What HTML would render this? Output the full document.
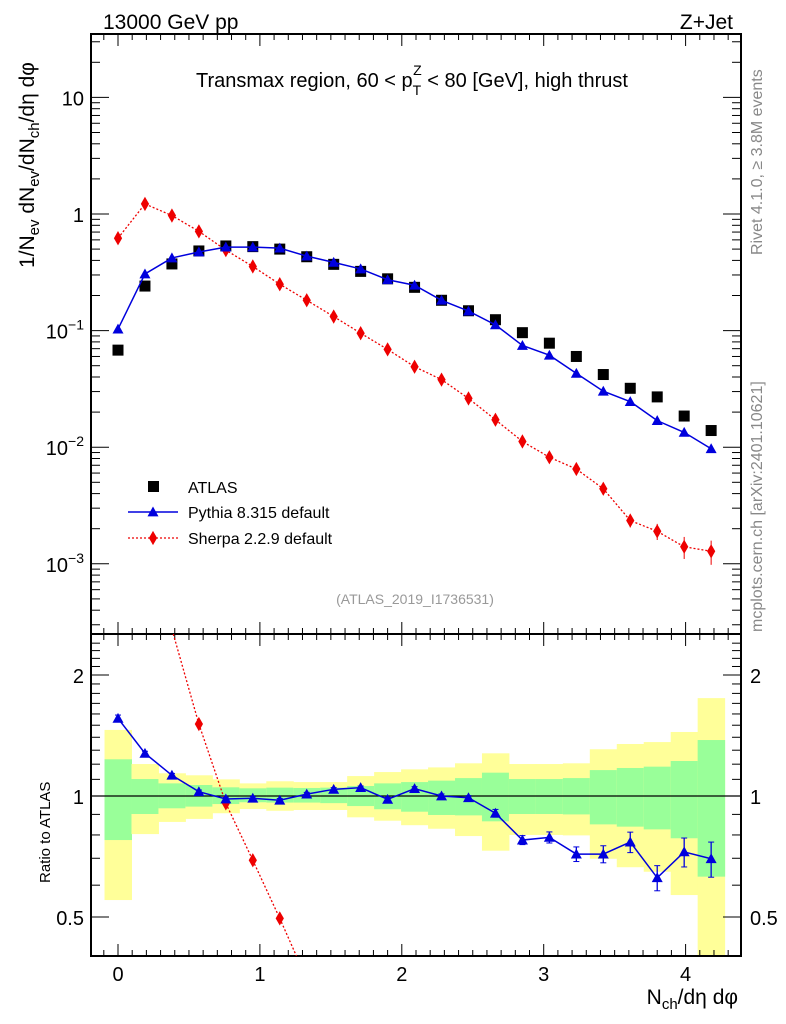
<!DOCTYPE html>
<html><head><meta charset="utf-8"><style>
html,body{margin:0;padding:0;background:#fff;overflow:hidden;width:786px;height:1024px}
svg{display:block;font-family:"Liberation Sans",sans-serif}
</style></head><body>
<svg id="chart" width="786" height="1024" viewBox="0 0 786 1024" xmlns="http://www.w3.org/2000/svg">
<text x="103" y="29" font-size="21">13000 GeV pp</text>
<text x="733" y="29" font-size="21" text-anchor="end">Z+Jet</text>
<text x="412" y="87" font-size="20" text-anchor="middle">Transmax region, 60 &lt; p<tspan dy="8" font-size="14">T</tspan><tspan dy="-20" dx="-8" font-size="14">Z</tspan><tspan dy="12"> &lt; 80 [GeV], high thrust</tspan></text>
<text transform="translate(762,255) rotate(-90)" font-size="16" fill="#888">Rivet 4.1.0, ≥ 3.8M events</text>
<text transform="translate(762,632) rotate(-90)" font-size="16" fill="#888">mcplots.cern.ch [arXiv:2401.10621]</text>
<text x="415" y="604" font-size="14" fill="#999" text-anchor="middle">(ATLAS_2019_I1736531)</text>
<text transform="translate(34,268) rotate(-90)" font-size="21">1/N<tspan font-size="15" dy="5">ev</tspan><tspan dy="-5"> dN</tspan><tspan font-size="15" dy="5">ev</tspan><tspan dy="-5">/dN</tspan><tspan font-size="15" dy="5">ch</tspan><tspan dy="-5">/dη dφ</tspan></text>
<text transform="translate(50,883) rotate(-90)" font-size="15">Ratio to ATLAS</text>
<text x="738" y="1004" font-size="21" text-anchor="end">N<tspan font-size="15" dy="5">ch</tspan><tspan dy="-5">/dη dφ</tspan></text>
<g id="g"></g>
</svg>
<script>
const xs=[0,0.19,0.38,0.57,0.76,0.95,1.14,1.33,1.52,1.71,1.9,2.09,2.28,2.47,2.66,2.85,3.04,3.23,3.42,3.61,3.8,3.99,4.18];
const atlas=[0.068,0.241,0.373,0.482,0.532,0.525,0.5,0.43,0.37,0.322,0.278,0.235,0.182,0.148,0.124,0.096,0.078,0.06,0.042,0.032,0.027,0.0185,0.0139];
const pythia=[0.103,0.306,0.42,0.472,0.52,0.52,0.51,0.435,0.385,0.338,0.273,0.245,0.182,0.147,0.112,0.0745,0.0615,0.043,0.0302,0.0246,0.0169,0.0134,0.0097];
const sherpa=[0.62,1.22,0.97,0.71,0.49,0.355,0.25,0.182,0.132,0.095,0.069,0.049,0.038,0.0262,0.0172,0.0112,0.0082,0.0065,0.0044,0.00235,0.0019,0.0014,0.00128];
const sherpaErr=[0,0,0,0,0,0,0,0,0,0,0,0,0,0,0,0,0,0,0.0004,0.0003,0.0003,0.0003,0.0003];
const ratioPythia=[1.56,1.277,1.126,1.025,0.983,0.987,0.976,1.011,1.039,1.049,0.981,1.043,1.0,0.99,0.906,0.777,0.789,0.717,0.717,0.768,0.626,0.726,0.698];
const ratioPythiaErr=[0.03,0.015,0.012,0.01,0.01,0.01,0.01,0.01,0.01,0.01,0.012,0.012,0.012,0.012,0.02,0.02,0.025,0.03,0.035,0.045,0.045,0.06,0.07];
const ratioSherpa=[9.1,5.1,2.6,1.51,0.959,0.692,0.496,0.35,0.26,0.2,0.16,0.13,0.11,0.1,0.09,0.08,0.07,0.07,0.07,0.06,0.06,0.06,0.06];
const yelHi=[1.46,1.201,1.139,1.126,1.1,1.075,1.088,1.083,1.083,1.121,1.147,1.165,1.178,1.206,1.277,1.201,1.201,1.206,1.307,1.347,1.362,1.443,1.752];
const yelLo=[0.551,0.804,0.862,0.877,0.906,0.928,0.919,0.923,0.923,0.885,0.868,0.846,0.829,0.795,0.731,0.80,0.80,0.798,0.698,0.665,0.648,0.567,0.3];
const grnHi=[1.234,1.102,1.075,1.065,1.051,1.045,1.049,1.047,1.049,1.059,1.075,1.083,1.092,1.108,1.143,1.102,1.102,1.108,1.16,1.174,1.183,1.222,1.378];
const grnLo=[0.777,0.902,0.932,0.941,0.955,0.965,0.963,0.963,0.96,0.944,0.927,0.914,0.897,0.895,0.865,0.902,0.902,0.9,0.85,0.839,0.826,0.785,0.63];
const xTicks=[0,1,2,3,4];
const ratioTicks=[0.5,1,2];

const L=91,R=741,T=34,MB=634,RB=956;
const X=v=>118+v*141.9;
const Y=v=>214-Math.log10(v)*116.6;
const RY=v=>796-Math.log2(v)*121;
const NS="http://www.w3.org/2000/svg";
const g=document.getElementById('g');
function mk(tag,at,parent){const e=document.createElementNS(NS,tag);for(const k in at)e.setAttribute(k,at[k]);(parent||g).appendChild(e);return e;}
function clipPts(pts,y0,y1){
 const out=[];
 for(let i=0;i<pts.length-1;i++){
  let [ax,ay]=pts[i],[bx,by]=pts[i+1];
  if((ay<y0&&by<y0)||(ay>y1&&by>y1))continue;
  const cl=(px,py,qx,qy)=>{if(py<y0){const t=(y0-py)/(qy-py);return [px+t*(qx-px),y0];}if(py>y1){const t=(y1-py)/(qy-py);return [px+t*(qx-px),y1];}return [px,py];};
  const a=cl(ax,ay,bx,by),b=cl(bx,by,ax,ay);
  out.push([a,b]);
 }
 return out;
}
const defs=mk('defs',{});
const c1=mk('clipPath',{id:'cm'},defs);mk('rect',{x:L,y:T,width:R-L,height:MB-T},c1);
const c2=mk('clipPath',{id:'cr'},defs);mk('rect',{x:L,y:MB,width:R-L,height:RB-MB},c2);
const half=0.095;
const bands=mk('g',{'clip-path':'url(#cr)'});


xs.forEach((x,i)=>{
 const top=Math.max(MB,RY(yelHi[i])),bot=Math.min(RB,RY(yelLo[i]));
 const a=mk('rect',{x:X(x-half),y:top,width:X(x+half)-X(x-half)+0.5,height:bot-top,fill:'#ffff99'},bands);
 
 
 const b=mk('rect',{x:X(x-half),y:RY(grnHi[i]),width:X(x+half)-X(x-half)+0.5,height:RY(grnLo[i])-RY(grnHi[i]),fill:'#99ff99'},bands);
 
 
});
mk('line',{x1:L,x2:R,y1:RY(1),y2:RY(1),stroke:'#000','stroke-width':1.3});
function frame(top,bot,name){const f=mk('rect',{x:L,y:top,width:R-L,height:bot-top,fill:'none',stroke:'#000','stroke-width':2});}
frame(T,MB,'main-frame');frame(MB,RB,'ratio-frame');
function xticks(top,bot,labels){
 for(let v=-0.1;v<=4.35;v+=0.1){const vv=Math.round(v*10)/10;const maj=Math.abs(vv-Math.round(vv))<1e-6;const len=maj?12:6;const x=X(vv);if(x<L||x>R)continue;
  mk('line',{x1:x,x2:x,y1:bot,y2:bot-len,stroke:'#000','stroke-width':1});mk('line',{x1:x,x2:x,y1:top,y2:top+len,stroke:'#000','stroke-width':1});}
 if(labels)xTicks.forEach(v=>{const t=mk('text',{x:X(v),y:bot+25,'font-size':20,'text-anchor':'middle'});t.textContent=v;});
}
xticks(T,MB,false);xticks(MB,RB,true);
for(let e=-4;e<=1;e++){for(let m=1;m<10;m++){const v=m*Math.pow(10,e);const y=Y(v);if(y<T||y>MB)continue;const len=m==1?18:9;
 mk('line',{x1:L,x2:L+len,y1:y,y2:y,stroke:'#000'});mk('line',{x1:R,x2:R-len,y1:y,y2:y,stroke:'#000'});}}
[[10,'10',null],[1,'1',null],[0.1,'10','−1'],[0.01,'10','−2'],[0.001,'10','−3']].forEach(([v,b,s])=>{
 const t=mk('text',{x:84,y:Y(v)+8,'font-size':20,'text-anchor':'end'});t.textContent=b;
 if(s){const sp=mk('tspan',{dy:-9,'font-size':14},t);sp.textContent=s;}
 });
for(let v=0.4;v<=2.5;v+=0.1){const vv=Math.round(v*10)/10;const y=RY(vv);if(y<MB||y>RB)continue;const maj=ratioTicks.includes(vv);const len=maj?18:9;
 mk('line',{x1:L,x2:L+len,y1:y,y2:y,stroke:'#000'});mk('line',{x1:R,x2:R-len,y1:y,y2:y,stroke:'#000'});}
ratioTicks.forEach(v=>{[[84,'end'],[750,'start']].forEach(([x,a])=>{const t=mk('text',{x:x,y:RY(v)+8,'font-size':20,'text-anchor':a});t.textContent=v;});});
function tri(p,x,y,s){return mk('polygon',{points:`${x},${y-s} ${x-s},${y+s*0.8} ${x+s},${y+s*0.8}`,fill:'#0000dd'},p);}
function dia(p,x,y,s){return mk('polygon',{points:`${x},${y-s*1.3} ${x+s*0.75},${y} ${x},${y+s*1.3} ${x-s*0.75},${y}`,fill:'#ee0000'},p);}
const mg=mk('g',{'clip-path':'url(#cm)'});
const sl=mk('polyline',{points:xs.map((x,i)=>X(x)+','+Y(sherpa[i])).join(' '),fill:'none',stroke:'#ee0000','stroke-width':1.3,'stroke-dasharray':'2,2'},mg);

xs.forEach((x,i)=>{if(sherpaErr[i])mk('line',{x1:X(x),x2:X(x),y1:Y(sherpa[i]+sherpaErr[i]),y2:Y(sherpa[i]-sherpaErr[i]),stroke:'#ee0000'},mg);
 const d=dia(mg,X(x),Y(sherpa[i]),5.5);});
xs.forEach((x,i)=>{const r=mk('rect',{x:X(x)-5.5,y:Y(atlas[i])-5.5,width:11,height:11,fill:'#000'},mg);});
const pl=mk('polyline',{points:xs.map((x,i)=>X(x)+','+Y(pythia[i])).join(' '),fill:'none',stroke:'#0000dd','stroke-width':1.5},mg);

xs.forEach((x,i)=>{const t=tri(mg,X(x),Y(pythia[i]),5.5);});
const rg=mk('g',{'clip-path':'url(#cr)'});
const rsg=mk('g',{},rg);

clipPts(xs.map((x,i)=>[X(x),RY(ratioSherpa[i])]),MB,RB).forEach(([a,b])=>{
 mk('line',{x1:a[0],y1:a[1],x2:b[0],y2:b[1],stroke:'#ee0000','stroke-width':1.3,'stroke-dasharray':'2,2'},rsg);});
xs.forEach((x,i)=>{const y=RY(ratioSherpa[i]);if(y<MB||y>RB)return;const d=dia(rg,X(x),y,5.5);});
const rpl=mk('polyline',{points:xs.map((x,i)=>X(x)+','+RY(ratioPythia[i])).join(' '),fill:'none',stroke:'#0000dd','stroke-width':1.5},rg);

xs.forEach((x,i)=>{const e=ratioPythiaErr[i],x0=X(x),y1=RY(ratioPythia[i]+e),y2=RY(ratioPythia[i]-e);
 mk('line',{x1:x0,x2:x0,y1:y1,y2:y2,stroke:'#0000dd','stroke-width':1.3},rg);
 mk('line',{x1:x0-3,x2:x0+3,y1:y1,y2:y1,stroke:'#0000dd'},rg);mk('line',{x1:x0-3,x2:x0+3,y1:y2,y2:y2,stroke:'#0000dd'},rg);
 const t=tri(rg,x0,RY(ratioPythia[i]),5.5);});
const lg=mk('g',{});

mk('rect',{x:148,y:481,width:11,height:11,fill:'#000'},lg);
let t=mk('text',{x:188,y:493,'font-size':16},lg);t.textContent='ATLAS';
mk('line',{x1:128,x2:178,y1:512,y2:512,stroke:'#0000dd','stroke-width':1.5},lg);tri(lg,153,512,5.5);
t=mk('text',{x:188,y:518,'font-size':16},lg);t.textContent='Pythia 8.315 default';
mk('line',{x1:128,x2:178,y1:538,y2:538,stroke:'#ee0000','stroke-width':1.3,'stroke-dasharray':'2,2'},lg);dia(lg,153,538,5.5);
t=mk('text',{x:188,y:544,'font-size':16},lg);t.textContent='Sherpa 2.2.9 default';
</script>
</body></html>
